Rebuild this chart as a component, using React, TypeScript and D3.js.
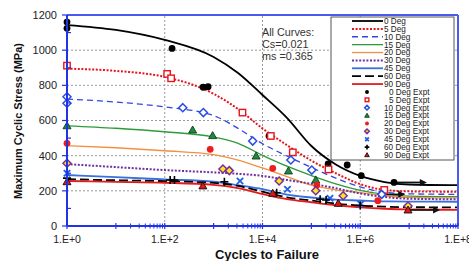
import React from 'react';
import * as d3 from 'd3';

const W = 469;
const H = 261;

// sample points of the fitted curves (cycles -> stress, MPa)
const curveCycles = [1, 10, 100, 1e3, 3162, 1e4, 31623, 1e5, 316228, 1e6, 3162278, 1e7, 1e8];
const deg0Curve = [1143, 1115, 1058, 961, 870, 745, 615, 455, 350, 285, 250, 236, 232];
const deg5Curve = [895, 882, 848, 752, 665, 555, 460, 372, 300, 238, 205, 197, 195];
const deg10Curve = [722, 705, 677, 628, 555, 468, 398, 333, 272, 222, 192, 183, 180];
const deg15Curve = [570, 556, 536, 506, 470, 402, 340, 287, 240, 203, 180, 170, 167];
const deg20Curve = [457, 445, 428, 406, 375, 330, 281, 232, 205, 190, 172, 163, 160];
const deg30Curve = [352, 335, 318, 305, 297, 285, 262, 240, 215, 185, 165, 155, 152];
const deg45Curve = [290, 278, 265, 252, 232, 210, 178, 162, 150, 145, 140, 139, 138];
const deg60Curve = [266, 260, 255, 245, 228, 195, 163, 145, 127, 116, 110, 107, 106];
const deg90Curve = [256, 251, 246, 234, 215, 182, 153, 135, 118, 106, 98, 94, 92];

const curveNames = ['0 Deg', '5 Deg', '10 Deg', '15 Deg', '20 Deg', '30 Deg', '45 Deg', '60 Deg', '90 Deg'];
const curveValues = [deg0Curve, deg5Curve, deg10Curve, deg15Curve, deg20Curve, deg30Curve, deg45Curve, deg60Curve, deg90Curve];

// experimental points [cycles, stress]
const deg0Expt = [[1, 1160], [1, 1124], [141, 1010], [610, 789], [770, 792], [13600, 512], [220000, 353], [540000, 347], [1050000, 286], [4900000, 248]];
const deg5Expt = [[1, 912], [112, 865], [135, 840], [3890, 645], [14800, 512], [41700, 419], [224000, 322], [3100000, 205]];
const deg10Expt = [[1, 735], [1, 698], [234, 673], [617, 645], [6300, 483], [38000, 375], [102000, 318], [2750000, 180]];
const deg15Expt = [[1, 570], [372, 546], [955, 514], [7400, 398], [33900, 313], [123000, 262]];
const deg20Expt = [[1, 470], [851, 436], [16200, 328], [129000, 233], [2290000, 144]];
const deg30Expt = [[1, 357], [1550, 324], [2090, 315], [21900, 256], [123000, 201], [447000, 172], [9500000, 114]];
const deg45Expt = [[1, 300], [3470, 256], [32400, 209], [240000, 158], [1020000, 125]];
const deg60Expt = [[1, 272], [129, 262], [158, 262], [1660, 252], [19500, 189], [151000, 152], [200000, 148], [1000000, 117]];
const deg90Expt = [[1, 252], [603, 228], [16200, 186], [355000, 129], [9500000, 91]];

const exptNames = ['0 Deg Expt', '5 Deg Expt', '10 Deg Expt', '15 Deg Expt', '20 Deg Expt', '30 Deg Expt', '45 Deg Expt', '60 Deg Expt', '90 Deg Expt'];
const exptValues = [deg0Expt, deg5Expt, deg10Expt, deg15Expt, deg20Expt, deg30Expt, deg45Expt, deg60Expt, deg90Expt];

// run-outs
const runoutFrom = [4900000, 2750000, 9500000];
const runoutTo = [23000000, 8300000, 43000000];
const runoutStress = [248, 180, 91];

const yTicks = [0, 200, 400, 600, 800, 1000, 1200];
const xLabelTicks = [1, 1e2, 1e4, 1e6, 1e8];
const notes = ['All Curves:', 'Cs=0.021', 'ms =0.365'];

const lineStyles = [
  { stroke: '#000', width: 1.8, dash: null },
  { stroke: '#e8141c', width: 2, dash: '2,1.6' },
  { stroke: '#3347e0', width: 1.3, dash: '6,4' },
  { stroke: '#2e9a3a', width: 1.3, dash: null },
  { stroke: '#f39040', width: 1.3, dash: null },
  { stroke: '#7030a0', width: 2, dash: '2,1.6' },
  { stroke: '#3a6fe0', width: 1.8, dash: null },
  { stroke: '#000', width: 1.8, dash: '9,4' },
  { stroke: '#e41a1a', width: 1.8, dash: null },
];

const markerStyles = [
  { shape: 'circle', fill: '#000', stroke: 'none' },
  { shape: 'square', fill: '#fff', stroke: '#e8141c' },
  { shape: 'diamond', fill: '#fff', stroke: '#2a4de0' },
  { shape: 'triangle', fill: '#1f8a3c', stroke: '#0d3d17' },
  { shape: 'circle', fill: '#ee1c1c', stroke: 'none' },
  { shape: 'diamond', fill: '#ffe81a', stroke: '#7a2fa0' },
  { shape: 'cross', fill: 'none', stroke: '#1f5fe8' },
  { shape: 'plus', fill: 'none', stroke: '#000' },
  { shape: 'triangle', fill: '#e41414', stroke: '#111' },
];

function Marker({ st, cx, cy, s }: any) {
  switch (st.shape) {
    case 'circle':
      return <circle cx={cx} cy={cy} r={s * 0.85} fill={st.fill} />;
    case 'square':
      return <rect x={cx - s * 0.8} y={cy - s * 0.8} width={s * 1.6} height={s * 1.6} fill={st.fill} stroke={st.stroke} strokeWidth={1.4} />;
    case 'diamond':
      return <path d={`M${cx},${cy - s}L${cx + s},${cy}L${cx},${cy + s}L${cx - s},${cy}Z`} fill={st.fill} stroke={st.stroke} strokeWidth={1.5} />;
    case 'triangle':
      return <path d={`M${cx},${cy - s}L${cx + s},${cy + s * 0.75}L${cx - s},${cy + s * 0.75}Z`} fill={st.fill} stroke={st.stroke} strokeWidth={0.9} />;
    case 'cross':
      return <path d={`M${cx - s * 0.8},${cy - s * 0.8}L${cx + s * 0.8},${cy + s * 0.8}M${cx - s * 0.8},${cy + s * 0.8}L${cx + s * 0.8},${cy - s * 0.8}`} stroke={st.stroke} strokeWidth={1.8} />;
    default:
      return <path d={`M${cx - s},${cy}L${cx + s},${cy}M${cx},${cy - s}L${cx},${cy + s}`} stroke={st.stroke} strokeWidth={1.6} />;
  }
}

export default function App() {
  const x = d3.scaleLog().domain([1, 1e8]).range([67, 458]);
  const y = d3.scaleLinear().domain([0, 1200]).range([226, 15]);
  const line = d3.line<number>()
    .x((_, i) => x(curveCycles[i]))
    .y((d) => y(d))
    .curve(d3.curveMonotoneX);

  const majorX = d3.range(0, 9).map((e) => Math.pow(10, e));
  const minorX: number[] = [];
  [1, 3, 5, 7].forEach((e) => {
    for (let m = 2; m <= 9; m++) minorX.push(m * Math.pow(10, e));
  });
  const minorY = d3.range(100, 1200, 200);
  const grid = '#9a9a9a';
  const axisBlue = '#2233e6';
  const font = 'Arial, "Liberation Sans", sans-serif';

  const legTop = 21;
  const legStep = 7.88;

  return (
    <svg width={W} height={H} style={{ position: 'absolute', left: 0, top: 0, background: '#fff' }} fontFamily={font}>
      {/* grid */}
      {yTicks.slice(1, -1).map((t) => (
        <line key={'gy' + t} x1={x(1)} x2={x(1e8)} y1={y(t)} y2={y(t)} stroke={grid} strokeWidth={1} strokeDasharray="2,2" />
      ))}
      {xLabelTicks.slice(1, -1).map((t) => (
        <line key={'gx' + t} x1={x(t)} x2={x(t)} y1={y(0)} y2={y(1200)} stroke={grid} strokeWidth={1} strokeDasharray="2,2" />
      ))}

      {/* curves */}
      {curveValues.map((vals, i) => (
        <path key={'c' + i} d={line(vals) || ''} fill="none" stroke={lineStyles[i].stroke} strokeWidth={lineStyles[i].width} strokeDasharray={lineStyles[i].dash || undefined} />
      ))}

      {/* run-out arrows */}
      {runoutFrom.map((f, i) => {
        const x1 = x(f), x2 = x(runoutTo[i]), yy = y(runoutStress[i]);
        return (
          <g key={'r' + i}>
            <line x1={x1} x2={x2 - 5} y1={yy} y2={yy} stroke="#111" strokeWidth={1.6} />
            <path d={`M${x2},${yy}L${x2 - 7},${yy - 3.5}L${x2 - 7},${yy + 3.5}Z`} fill="#111" />
          </g>
        );
      })}

      {/* experimental points */}
      {exptValues.map((pts, i) => (
        <g key={'e' + i}>
          {pts.map((p, j) => (
            <Marker key={j} st={markerStyles[i]} cx={x(p[0])} cy={y(p[1])} s={4} />
          ))}
        </g>
      ))}

      {/* frame + axes */}
      <line x1={x(1)} x2={x(1e8)} y1={y(1200)} y2={y(1200)} stroke="#4a5af0" strokeWidth={2} />
      <line x1={x(1e8)} x2={x(1e8)} y1={y(1200)} y2={y(0)} stroke="#4a5af0" strokeWidth={2} />
      <line x1={x(1)} x2={x(1)} y1={y(1200)} y2={y(0)} stroke={axisBlue} strokeWidth={2} />
      <line x1={x(1)} x2={x(1e8)} y1={y(0)} y2={y(0)} stroke={axisBlue} strokeWidth={2} />
      {yTicks.map((t) => (
        <line key={'yt' + t} x1={x(1) - 5} x2={x(1)} y1={y(t)} y2={y(t)} stroke={axisBlue} strokeWidth={1.2} />
      ))}
      {minorY.map((t) => (
        <line key={'ym' + t} x1={x(1)} x2={x(1) + 4} y1={y(t)} y2={y(t)} stroke={axisBlue} strokeWidth={1.2} />
      ))}
      {majorX.map((t) => (
        <line key={'xt' + t} x1={x(t)} x2={x(t)} y1={y(0) - 3} y2={y(0) + 3} stroke={axisBlue} strokeWidth={1.2} />
      ))}
      {minorX.map((t) => (
        <line key={'xm' + t} x1={x(t)} x2={x(t)} y1={y(0) - 2.5} y2={y(0) + 2.5} stroke={axisBlue} strokeWidth={1} />
      ))}

      {/* tick labels */}
      {yTicks.map((t) => (
        <text key={'yl' + t} x={57} y={y(t)} dy="0.35em" textAnchor="end" fontSize={11} fill="#222">{t}</text>
      ))}
      {xLabelTicks.map((t) => (
        <text key={'xl' + t} x={x(t)} y={243} textAnchor="middle" fontSize={10.5} fill="#222">{'1.E+' + Math.round(Math.log10(t))}</text>
      ))}

      {/* axis titles */}
      <text x={267} y={259} textAnchor="middle" fontSize={13} fontWeight="bold" fill="#111">Cycles to Failure</text>
      <text transform="translate(22,121) rotate(-90)" textAnchor="middle" fontSize={11} fontWeight="bold" fill="#111">Maximum Cyclic Stress (MPa)</text>

      {/* notes */}
      {notes.map((n, i) => (
        <text key={'n' + i} x={262} y={36 + i * 12} fontSize={10.8} fill="#333">{n}</text>
      ))}

      {/* legend */}
      <rect x={331} y={17} width={123} height={143} fill="#fff" stroke="#555" strokeWidth={1} />
      {curveNames.map((n, i) => {
        const yy = legTop + i * legStep;
        const st = lineStyles[i];
        return (
          <g key={'lc' + i}>
            <line x1={352} x2={383} y1={yy} y2={yy} stroke={st.stroke} strokeWidth={st.width} strokeDasharray={st.dash || undefined} />
            <text x={384} y={yy} dy="0.35em" fontSize={8.2} fill="#222">{n}</text>
          </g>
        );
      })}
      {exptNames.map((n, i) => {
        const yy = legTop + (i + 9) * legStep;
        return (
          <g key={'le' + i}>
            <Marker st={markerStyles[i]} cx={367} cy={yy} s={2.3} />
            <text x={n.length > 10 ? 384 : 389} y={yy} dy="0.35em" fontSize={8.2} fill="#222">{n}</text>
          </g>
        );
      })}
    </svg>
  );
}
